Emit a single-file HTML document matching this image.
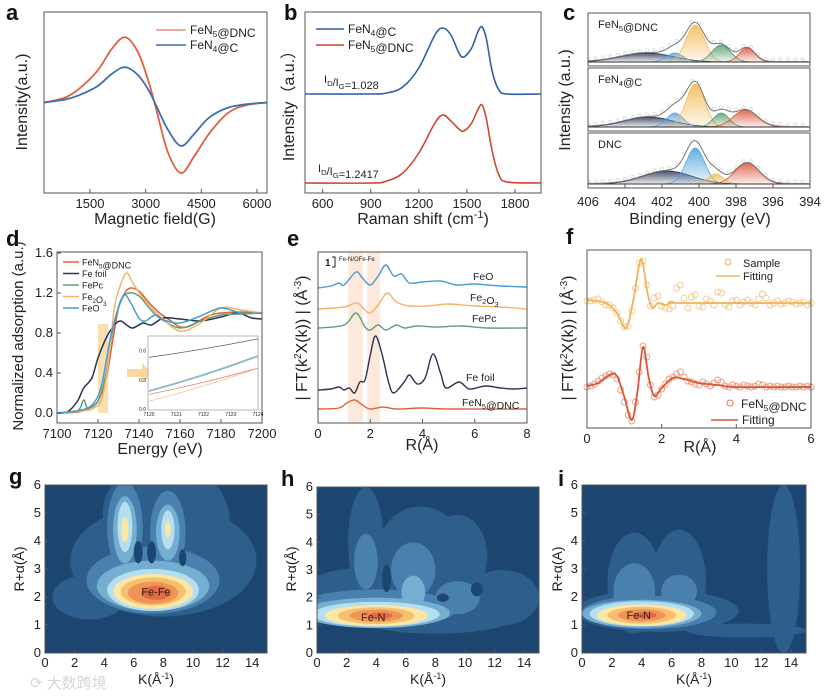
<!DOCTYPE html>
<html><head><meta charset="utf-8"><style>
html,body{margin:0;padding:0;background:#fff;}
svg{display:block;font-family:"Liberation Sans","Noto Sans CJK SC",sans-serif;}
</style></head><body>
<svg id="fig" width="830" height="696" viewBox="0 0 830 696" xmlns="http://www.w3.org/2000/svg">
<defs>
<clipPath id="clipG"><rect x="45" y="485" width="222" height="168"/></clipPath>
<clipPath id="clipH"><rect x="317" y="487" width="222" height="166"/></clipPath>
<clipPath id="clipI"><rect x="582" y="485" width="224" height="168"/></clipPath>
<clipPath id="clipC0"><rect x="588" y="13" width="222" height="53"/></clipPath>
<clipPath id="clipC1"><rect x="588" y="68" width="222" height="63"/></clipPath>
<clipPath id="clipC2"><rect x="588" y="133" width="222" height="55"/></clipPath>
</defs>
<g font-weight="bold" font-size="22" fill="#111">
<text x="6" y="20">a</text>
<text x="284" y="20">b</text>
<text x="563" y="20">c</text>
<text x="6" y="246">d</text>
<text x="287" y="246">e</text>
<text x="566" y="244">f</text>
<text x="9" y="484">g</text>
<text x="281" y="486">h</text>
<text x="558" y="486">i</text>
</g>
<g font-size="16" fill="#222" text-anchor="middle">
<text x="155" y="224">Magnetic field(G)</text>
<text transform="translate(27,102) rotate(-90)">Intensity(a.u.)</text>
<text x="423" y="224">Raman shift (cm<tspan dy="-6" font-size="11">-1</tspan><tspan dy="6">)</tspan></text>
<text transform="translate(294,102) rotate(-90)">Intensity（a.u.）</text>
<text x="700" y="224">Binding energy (eV)</text>
<text transform="translate(570,100) rotate(-90)">Intensity (a.u.)</text>
<text x="160" y="454">Energy (eV)</text>
<text transform="translate(23,336) rotate(-90)" font-size="15">Normalized adsorption (a.u.)</text>
<text x="422" y="450">R(Å)</text>
<text transform="translate(307,338) rotate(-90)">| FT(k<tspan dy="-6" font-size="10">2</tspan><tspan dy="6">X(k)) | (Å</tspan><tspan dy="-6" font-size="10">-3</tspan><tspan dy="6">)</tspan></text>
<text x="700" y="452">R(Å)</text>
<text transform="translate(573,338) rotate(-90)">| FT(k<tspan dy="-6" font-size="10">2</tspan><tspan dy="6">X(k)) | (Å</tspan><tspan dy="-6" font-size="10">-3</tspan><tspan dy="6">)</tspan></text>
<g font-size="14">
<text x="156" y="684">K(Å<tspan dy="-5" font-size="9">-1</tspan><tspan dy="5">)</tspan></text>
<text transform="translate(24,569) rotate(-90)">R+α(Å)</text>
<text x="428" y="684">K(Å<tspan dy="-5" font-size="9">-1</tspan><tspan dy="5">)</tspan></text>
<text transform="translate(296,569) rotate(-90)">R+α(Å)</text>
<text x="694" y="684">K(Å<tspan dy="-5" font-size="9">-1</tspan><tspan dy="5">)</tspan></text>
<text transform="translate(562,569) rotate(-90)">R+α(A)</text>
</g>
</g>
<text x="30" y="688" font-size="15" fill="#d6d6d6">⟳ 大数跨境</text>
</svg>
<script>
const epr_x=[260,800,1200,1700,2100,2450,2800,3100,3300,3600,3950,4300,4700,5200,5700,6270];
const epr_fen5=[0,0.05,0.15,0.35,0.6,0.72,0.55,0.2,-0.1,-0.55,-0.78,-0.6,-0.35,-0.12,-0.03,0];
const epr_fen4=[0,0.03,0.08,0.18,0.32,0.39,0.3,0.12,-0.05,-0.3,-0.48,-0.35,-0.17,-0.06,-0.02,0];
const epr_ticks=[1500,3000,4500,6000];
const raman_x=[490,900,1000,1100,1200,1300,1350,1400,1450,1480,1530,1570,1595,1620,1660,1700,1750,1962];
const raman_fen4=[99,99,100,106,125,158,165,158,140,136,145,162,166,155,120,103,99,99];
const raman_fen5=[10,10,12,20,40,70,78,72,64,62,70,84,88,75,40,18,11,10];
const raman_ticks=[600,900,1200,1500,1800];
const xps_ticks=[406,404,402,400,398,396,394];
const xps_names=["FeN5@DNC","FeN4@C","DNC"];
const xps_centers=[[402.8,401.3,400.2,398.8,397.4],[402.7,401.3,400.2,398.8,397.5],[401.7,400.2,399.1,397.4]];
const xps_heights=[[9,9,37,17,14],[10,14,43,14,17],[13,36,10,21]];
const xps_widths=[[1.4,0.45,0.5,0.5,0.42],[1.3,0.45,0.5,0.42,0.65],[1.3,0.5,0.4,0.65]];
const xps_colors=[["#2e3656","#5aa6dc","#f2b84e","#4f9a6c","#d9543c"],["#2e3656","#5aa6dc","#f2b84e","#4f9a6c","#d9543c"],["#2e3656","#4ca0dc","#f2b84e","#d9543c"]];
const xanes_x={
 fen5:[7100,7110,7115,7120,7124,7127,7130,7133,7136,7140,7145,7150,7155,7160,7165,7170,7175,7180,7190,7200],
 foil:[7100,7105,7110,7113,7117,7120,7124,7128,7131,7134,7137,7142,7146,7152,7160,7170,7180,7188,7195,7200],
 fepc:[7100,7110,7113,7115,7120,7124,7127,7131,7135,7140,7145,7150,7160,7170,7180,7190,7200],
 fe2o3:[7100,7112,7118,7122,7125,7128,7131,7134,7137,7142,7150,7160,7170,7180,7190,7200],
 feo:[7100,7112,7118,7122,7126,7130,7133,7136,7140,7143,7148,7152,7160,7170,7180,7190,7200]};
const xanes_y={
 fen5:[0,0.01,0.04,0.12,0.35,0.7,1.05,1.2,1.25,1.22,1.1,1.0,0.93,0.86,0.87,0.93,0.98,1.0,1.01,1.0],
 foil:[0,0.01,0.12,0.25,0.35,0.55,0.75,0.88,0.92,0.88,0.85,0.9,0.88,0.95,0.94,0.92,0.96,1.0,0.95,0.94],
 fepc:[0,0.02,0.13,0.05,0.12,0.4,0.8,1.12,1.2,1.17,1.05,0.95,0.85,0.92,0.98,0.99,1.0],
 fe2o3:[0,0.02,0.05,0.15,0.5,1.05,1.28,1.4,1.3,1.15,0.97,0.82,0.9,1.05,1.03,1.0],
 feo:[0,0.03,0.1,0.3,0.75,1.05,1.18,1.1,0.95,0.92,0.98,0.93,0.9,0.97,1.05,1.0,1.0]};
const xanes_names=["FeN5@DNC","Fe foil","FePc","Fe2O3","FeO"];
const xanes_keys=["fen5","foil","fepc","fe2o3","feo"];
const xanes_colors=["#e0603a","#2b3350","#5aa07a","#f2b56b","#4a9bd1"];
const xanes_yticks=[0,0.4,0.8,1.2,1.6];
const xanes_xticks=[7100,7120,7140,7160,7180,7200];
const inset_start=[0.15,0.53,0.19,0.08,0.18];
const inset_end=[0.42,0.72,0.55,0.42,0.54];
const ft_names=["FeO","Fe2O3","FePc","Fe foil","FeN5@DNC"];
const ft_offsets=[13.5,11.4,9.5,3.3,1.4];
const ft_colors=["#4a9bd1","#f2b56b","#5aa07a","#2b3350","#e0603a"];
const ft_x=[
 [0,0.5,0.8,1.0,1.45,1.7,2.0,2.3,2.6,2.9,3.2,3.5,4,4.7,5.3,6,7,8],
 [0,1.0,1.5,1.95,2.3,2.65,3.0,3.5,4.2,5,6,7,8],
 [0,1,1.45,1.8,2.0,2.3,2.6,3,3.3,3.8,4.5,5.5,6.5,8],
 [0,0.5,0.8,1.0,1.2,1.4,1.6,1.8,2.0,2.2,2.45,2.7,2.9,3.3,3.5,3.8,4.1,4.4,4.7,4.9,5.4,5.8,6.4,7,7.5,8],
 [0,0.8,1.1,1.4,1.7,2.0,2.5,3,4,5,8]];
const ft_y=[
 [0,0.2,0.5,0.3,1.6,1.0,0.3,1.2,2.3,1.2,1.4,0.5,0.6,0.7,0.3,0.4,0.2,0.1],
 [0,0.2,0.6,-0.4,0.4,1.6,0.7,0.3,0.3,0.5,0.3,0.2,0],
 [0,0.3,1.5,0.1,-0.2,0.3,-0.2,0.3,0,0.2,0.1,0.2,0,0],
 [0,0.1,0.3,0,0.2,-0.3,0.8,1.0,3.5,5.4,3.6,0.8,-0.3,0.8,1.5,0.6,1.2,3.6,1.6,0.2,0.8,0.1,0.4,0.2,0.1,0.2],
 [0,0.1,0.6,0.9,0.4,0,0.2,0,0.1,0,0]];
const ft_ticks=[0,2,4,6,8];
const fit_top_x=[0,0.5,0.8,1.05,1.25,1.45,1.62,1.75,1.9,2.1,2.3,2.5,6];
const fit_top_y=[0.3,0,-1.0,-2.5,0.5,4.4,1.0,-0.5,0,-0.2,0.1,0,0];
const fit_bot_x=[0,0.3,0.6,0.8,1.0,1.2,1.35,1.5,1.65,1.8,2.0,2.3,2.6,3.0,3.5,4,6];
const fit_bot_y=[0.1,0.4,1.2,1.1,-1.0,-3.3,-0.5,4.0,1.0,-0.9,-0.1,0.9,0.8,0.4,0.2,0,0];
const sample_top=[0.2,0.2,0.3,0.4,0.1,-0.2,-0.2,-0.5,-1.0,-1.8,-2.4,-2.3,-0.8,1.5,4.0,4.2,1.8,-0.3,0.5,0.7,-0.3,-0.5,-0.6,-0.3,1.5,1.8,0.5,-0.5,0.6,0.8,-0.3,-0.4,0.4,0.2,-0.2,1.1,1.0,-0.2,-0.4,0.2,0.3,-0.2,0.1,0.3,0,-0.2,0.4,0.9,0.5,-0.2,0,0.2,-0.1,0,0.2,0.1,-0.1,0,0.1,-0.2,0];
const sample_bot=[0,0.1,0.3,0.6,0.9,1.1,1.3,1.2,0.8,-0.3,-1.5,-2.8,-3.4,-1.5,1.5,4.1,3.0,0.2,-1.0,-0.8,-0.2,0.3,0.8,1.0,1.3,1.5,1.0,0.6,0.5,0.3,0.2,0.5,0.3,0.1,0.4,0.7,0.5,0.1,0,0.2,0.1,0,0.2,0.1,0,0.1,0.3,0.2,0,0.1,0,0.1,0,0,0.1,0,0,0.1,0,0.1,0];
const f_ticks=[0,2,4,6];
const map_colors=["#1c4670","#2d5e8c","#4a80ad","#74aed0","#b5def0","#fce6a4","#f6bf6f","#ee9555","#e26a48"];
const k_ticks=[0,2,4,6,8,10,12,14];
const r_ticks=[0,1,2,3,4,5,6];
const blobs_g=[[8,3.3,6.3,2.0,1],[6.5,5,2.6,1.5,1],[10,4.6,2.5,1.8,1],[3,2.0,2.5,0.8,1],[7.3,2.6,4.5,1.2,2],[5.4,4.5,1.2,1.6,2],[8.3,4.3,1.2,1.5,2],[7.3,2.4,3.8,0.9,3],[5.4,4.4,0.8,1.2,3],[8.3,4.3,0.8,1.0,3],[7.3,2.25,3.1,0.75,4],[5.4,4.5,0.5,0.9,4],[8.3,4.4,0.45,0.7,4],[7.3,2.2,2.7,0.62,5],[5.4,4.4,0.25,0.45,5],[8.3,4.4,0.2,0.3,5],[7.3,2.2,2.2,0.5,6],[7.3,2.15,1.7,0.4,7],[7.5,2.15,1.0,0.25,8],[6.3,3.6,0.3,0.4,0],[7.2,3.6,0.3,0.4,0],[9.3,3.4,0.25,0.3,0]];
const blobs_h=[[3.5,2.0,5,1.1,1],[3.3,4.0,1.2,2.0,1],[7,3.5,3,1.8,1],[9.5,3.5,2,1.5,1],[12.5,2.0,2.5,1.0,1],[8,1.2,5,0.5,1],[4,1.6,5.5,0.7,2],[3.3,3.3,0.8,1.0,2],[6.5,3,1.5,1.0,2],[9.5,2,1.5,0.6,2],[4,1.45,5,0.55,3],[6.5,2.2,0.8,0.6,3],[4,1.4,4.3,0.45,4],[4,1.35,3.5,0.38,5],[4,1.35,2.6,0.3,6],[4,1.35,1.8,0.22,7],[4.3,1.35,0.8,0.12,8],[4.7,2.7,0.3,0.5,0],[8.5,2,0.4,0.15,0],[10.8,2.3,0.4,0.25,0]];
const blobs_i=[[3.5,2.5,1.8,1.8,1],[6.5,2.6,1.8,1.8,1],[5,1.5,5.5,0.75,1],[13.5,3,1.1,3,1],[11,0.8,4,0.25,1],[3.5,2.2,1.4,1,2],[6.5,2.2,1.2,0.6,2],[4.5,1.45,4.5,0.6,2],[4,1.4,4,0.5,3],[4,1.4,3.5,0.45,4],[4,1.35,3,0.38,5],[4,1.35,2.3,0.3,6],[4,1.35,1.6,0.22,7],[4.2,1.35,0.8,0.12,8]];

const NS="http://www.w3.org/2000/svg";
const svg=document.getElementById('fig');
function mk(tag,attrs,name,parent){
 const el=document.createElementNS(NS,tag);
 for(const k in attrs) el.setAttribute(k,attrs[k]);
 
 
 (parent||svg).appendChild(el);
 return el;
}
function lin(d0,d1,r0,r1){return v=>r0+(v-d0)*(r1-r0)/(d1-d0);}
function smooth(pts){
 let d="M"+pts[0][0].toFixed(1)+","+pts[0][1].toFixed(1);
 for(let i=0;i<pts.length-1;i++){
  const p0=pts[Math.max(0,i-1)],p1=pts[i],p2=pts[i+1],p3=pts[Math.min(pts.length-1,i+2)];
  const c1=[p1[0]+(p2[0]-p0[0])/6,p1[1]+(p2[1]-p0[1])/6];
  const c2=[p2[0]-(p3[0]-p1[0])/6,p2[1]-(p3[1]-p1[1])/6];
  d+="C"+c1[0].toFixed(1)+","+c1[1].toFixed(1)+" "+c2[0].toFixed(1)+","+c2[1].toFixed(1)+" "+p2[0].toFixed(1)+","+p2[1].toFixed(1);
 }
 return d;
}
function series(xs,ys,sx,sy,color,name,w,parent){
 const pts=xs.map((x,i)=>[sx(x),sy(ys[i])]);
 return mk('path',{d:smooth(pts),fill:'none',stroke:color,'stroke-width':w||1.5},name,parent);
}
function frame(x,y,w,h,name){mk('rect',{x:x,y:y,width:w,height:h,fill:'none',stroke:'#555','stroke-width':1},name);}
function xticks(ticks,sx,yb,ylab,name,fs,fmt){
 ticks.forEach(t=>{
  mk('line',{x1:sx(t),x2:sx(t),y1:yb,y2:yb-4,stroke:'#555'},name+'-tick');
  const tx=mk('text',{x:sx(t),y:ylab,'font-size':fs||13,'text-anchor':'middle',fill:'#222'},name+'-label');
  tx.textContent=fmt?fmt(t):t;
 });
}
function yticks(ticks,sy,xl,name,fs,fmt){
 ticks.forEach(t=>{
  mk('line',{x1:xl,x2:xl+4,y1:sy(t),y2:sy(t),stroke:'#555'},name+'-tick');
  const tx=mk('text',{x:xl-4,y:sy(t)+4,'font-size':fs||13,'text-anchor':'end',fill:'#222'},name+'-label');
  tx.textContent=fmt?fmt(t):t;
 });
}
function txt(x,y,s,size,name,attrs){
 const t=mk('text',Object.assign({x:x,y:y,'font-size':size,fill:'#222'},attrs||{}),name);
 t.innerHTML=s;return t;
}
const sub=s=>'<tspan dy="3" font-size="70%">'+s+'</tspan><tspan dy="-3">';
function chem(name){
 return name.replace(/N(\d)@/,'N'+sub('$1')+'</tspan>@').replace(/(Fe)(2)(O)(3)/,'Fe'+sub('2')+'</tspan>O'+sub('3')+'</tspan>');
}

// A
(function(){
 const sx=lin(260,6270,44,267), sy=lin(-1,1,193,12);
 series(epr_x,epr_fen5,sx,sy,'#e0603a','a-fen5-line',1.8);
 series(epr_x,epr_fen4,sx,sy,'#3a6fb0','a-fen4-line',1.8);
 frame(44,12,223,181,'a-plot-frame');
 xticks(epr_ticks,sx,193,208,'a-x');
 mk('line',{x1:156,x2:186,y1:30,y2:30,stroke:'#e8907a','stroke-width':1.5},'a-legend-fen5-swatch');
 txt(190,34,'FeN'+sub('5')+'</tspan>@DNC',12,'a-legend-fen5');
 mk('line',{x1:156,x2:186,y1:45,y2:45,stroke:'#3a6fb0','stroke-width':1.5},'a-legend-fen4-swatch');
 txt(190,49,'FeN'+sub('4')+'</tspan>@C',12,'a-legend-fen4');
})();
// B
(function(){
 const sx=lin(490,1962,305,541), sy=lin(0,181,193,12);
 series(raman_x,raman_fen4,sx,sy,'#2f5fa5','b-fen4-line',1.6);
 series(raman_x,raman_fen5,sx,sy,'#cf4530','b-fen5-line',1.6);
 frame(305,12,236,181,'b-plot-frame');
 xticks(raman_ticks,sx,193,208,'b-x');
 mk('line',{x1:316,x2:344,y1:29,y2:29,stroke:'#2f5fa5','stroke-width':1.5},'b-legend-fen4-swatch');
 txt(348,33,'FeN'+sub('4')+'</tspan>@C',12,'b-legend-fen4');
 mk('line',{x1:316,x2:344,y1:45,y2:45,stroke:'#cf4530','stroke-width':1.5},'b-legend-fen5-swatch');
 txt(348,49,'FeN'+sub('5')+'</tspan>@DNC',12,'b-legend-fen5');
 txt(324,83,'I'+sub('D')+'</tspan>/I'+sub('G')+'</tspan>=1.028',11,'b-ratio-fen4');
 txt(318,172,'I'+sub('D')+'</tspan>/I'+sub('G')+'</tspan>=1.2417',11,'b-ratio-fen5');
})();
// C
(function(){
 const sx=lin(406,394,588,810);
 const subs=[[13,66],[68,131],[133,188]];
 const defs=svg.querySelector('defs');
 subs.forEach((s,si)=>{
  const base=s[1]-4;
  const sy=lin(0,50,base,base-50);
  const g=mk('g',{'clip-path':'url(#clipC'+si+')'},'c-subplot-group');
  const env=[];
  for(let e=406;e>=394;e-=0.1){
   let v=0;
   xps_centers[si].forEach((c,j)=>{v+=xps_heights[si][j]*Math.exp(-Math.pow((e-c)/xps_widths[si][j],2)/2);});
   env.push([sx(e),sy(v+0.5)]);
  }
  xps_centers[si].forEach((c,j)=>{
   const gid='g'+si+'_'+j;
   const lg=mk('linearGradient',{id:gid,x1:0,y1:0,x2:0,y2:1},'c-gradient',defs);
   mk('stop',{offset:'0','stop-color':xps_colors[si][j],'stop-opacity':0.85},'c-stop',lg);
   mk('stop',{offset:'1','stop-color':xps_colors[si][j],'stop-opacity':0.1},'c-stop',lg);
   const pts=[];
   for(let e=c+4*xps_widths[si][j];e>=c-4*xps_widths[si][j];e-=0.05){
    pts.push([sx(e),sy(xps_heights[si][j]*Math.exp(-Math.pow((e-c)/xps_widths[si][j],2)/2))]);
   }
   let d='M'+pts.map(p=>p[0].toFixed(1)+','+p[1].toFixed(1)).join('L')+'Z';
   mk('path',{d:d,fill:'url(#'+gid+')',stroke:xps_colors[si][j],'stroke-width':0.8},'c-fit-peak',g);
  });
  mk('line',{x1:588,x2:810,y1:base,y2:base,stroke:'#333','stroke-width':1},'c-baseline',g);
  env.filter((p,i)=>i%4==0).forEach(p=>mk('circle',{cx:p[0],cy:p[1]-2,r:1.6,fill:'none',stroke:'#ccc','stroke-width':0.6},'c-raw-point',g));
  mk('path',{d:'M'+env.map(p=>p[0].toFixed(1)+','+p[1].toFixed(1)).join('L'),fill:'none',stroke:'#777','stroke-width':1},'c-envelope',g);
  frame(588,s[0],222,s[1]-s[0],'c-subplot-frame');
  txt(598,s[0]+15,chem(xps_names[si]),11,'c-sample-label');
 });
 xticks(xps_ticks,sx,188,206,'c-x');
})();
// D
(function(){
 const sx=lin(7100,7200,57,262), sy=lin(0,1.6,413,253);
 mk('rect',{x:sx(7120),y:sy(0.89),width:sx(7125)-sx(7120),height:sy(0)-sy(0.89),fill:'#f9d9a2',opacity:0.85},'d-highlight-band');
 xanes_keys.forEach((k,i)=>series(xanes_x[k],xanes_y[k],sx,sy,xanes_colors[i],'d-line-'+k,1.5));
 mk('path',{d:'M127,369 L142,369 L142,363 L152,373 L142,383 L142,377 L127,377Z',fill:'#f9d9a2'},'d-zoom-arrow');
 frame(57,252,205,171,'d-plot-frame');
 xticks(xanes_xticks,sx,423,438,'d-x');
 yticks(xanes_yticks,sy,57,'d-y',13,t=>t.toFixed(1));
 xanes_names.forEach((n,i)=>{
  const y=262+i*11.5;
  mk('line',{x1:63,x2:79,y1:y,y2:y,stroke:xanes_colors[i],'stroke-width':1.5},'d-legend-swatch');
  txt(82,y+3.5,chem(n),9,'d-legend-entry');
 });
 const ix=lin(7120,7124,149,258), iy=lin(0,0.75,409,336);
 mk('rect',{x:148,y:336,width:110,height:74,fill:'#fff',stroke:'#888','stroke-width':0.6},'d-inset-frame');
 xanes_keys.forEach((k,i)=>{
  const a=inset_start[i],b=inset_end[i];
  mk('path',{d:'M'+ix(7120)+','+iy(a)+' Q'+ix(7122)+','+iy(a+(b-a)*0.42)+' '+ix(7124)+','+iy(b),fill:'none',stroke:xanes_colors[i],'stroke-width':0.8,opacity:0.8},'d-inset-line');
 });
 [7120,7121,7122,7123,7124].forEach(t=>{txt(ix(t),416,String(t),5,'d-inset-xlabel',{'text-anchor':'middle'});});
 [0,0.3,0.6].forEach(t=>{txt(146,iy(t)+2,t.toFixed(1),5,'d-inset-ylabel',{'text-anchor':'end'});});
})();
// E
(function(){
 const sx=lin(0,8,318,527), sy=lin(0,17.1,423,252);
 mk('rect',{x:sx(1.15),y:252,width:sx(1.72)-sx(1.15),height:171,fill:'#fbe3d3',opacity:0.8},'e-band-fe-n');
 mk('rect',{x:sx(1.88),y:252,width:sx(2.38)-sx(1.88),height:171,fill:'#fbe3d3',opacity:0.8},'e-band-fe-fe');
 ft_names.forEach((n,i)=>{
  const ys=ft_y[i].map(v=>v+ft_offsets[i]);
  series(ft_x[i],ys,sx,sy,ft_colors[i],'e-line-'+i,1.4);
 });
 const lbl=[[473,280],[470,301],[472,322],[466,381],[462,406]];
 ft_names.forEach((n,i)=>txt(lbl[i][0],lbl[i][1],chem(n),10.5,'e-curve-label'));
 frame(318,252,209,171,'e-plot-frame');
 xticks(ft_ticks,sx,423,438,'e-x');
 mk('path',{d:'M332,257 L335,257 L335,267 L332,267',fill:'none',stroke:'#222'},'e-scale-bar');
 txt(325,266,'1',10,'e-scale-label',{'font-weight':'bold'});
 txt(339,261,'Fe-N/OFe-Fe',6,'e-band-labels');
})();
// F
(function(){
 const sx=lin(0,6,587,811), sy=lin(0,17.8,428,250);
 sample_top.forEach((v,i)=>mk('circle',{cx:sx(i*0.1),cy:sy(v+12.5),r:3,fill:'none',stroke:'#f5c98e','stroke-width':0.9},'f-sample-top-point'));
 series(fit_top_x,fit_top_y.map(v=>v+12.5),sx,sy,'#f0b35a','f-fit-top-line',1.8);
 sample_bot.forEach((v,i)=>mk('circle',{cx:sx(i*0.1),cy:sy(v+4.1),r:3,fill:'none',stroke:'#ec9a82','stroke-width':0.9},'f-sample-bottom-point'));
 series(fit_bot_x,fit_bot_y.map(v=>v+4.1),sx,sy,'#d9563a','f-fit-bottom-line',1.8);
 frame(587,250,224,178,'f-plot-frame');
 xticks(f_ticks,sx,428,443,'f-x');
 mk('circle',{cx:728,cy:262,r:3,fill:'none',stroke:'#f0b35a'},'f-legend-sample-marker');
 txt(743,267,'Sample',11,'f-legend-sample');
 mk('line',{x1:716,x2:740,y1:276,y2:276,stroke:'#f0b35a','stroke-width':1.5},'f-legend-fit-swatch');
 txt(743,280,'Fitting',11,'f-legend-fitting');
 mk('circle',{cx:730,cy:403,r:3,fill:'none',stroke:'#e07a5f'},'f-legend-fen5-marker');
 txt(741,408,'FeN'+sub('5')+'</tspan>@DNC',12,'f-legend-fen5');
 mk('line',{x1:711,x2:738,y1:420,y2:420,stroke:'#d9563a','stroke-width':1.5},'f-legend-fit2-swatch');
 txt(742,424,'Fitting',12,'f-legend-fitting2');
})();
// G H I
function wtmap(x0,y0,w,h,blobs,clip,p,label,lk,lr){
 const sx=lin(0,15,x0,x0+w), sy=lin(0,6,y0+h,y0);
 const g=mk('g',{'clip-path':'url(#'+clip+')'},p+'-map-group');
 mk('rect',{x:x0,y:y0,width:w,height:h,fill:map_colors[0]},p+'-map-background',g);
 const order=blobs.filter(b=>b[4]>0).sort((a,b)=>a[4]-b[4]).concat(blobs.filter(b=>b[4]==0));
 order.forEach(b=>{
  mk('ellipse',{cx:sx(b[0]),cy:sy(b[1]),rx:b[2]*w/15,ry:b[3]*h/6,fill:map_colors[b[4]]},p+'-contour-cell',g);
 });
 frame(x0,y0,w,h,p+'-plot-frame');
 xticks(k_ticks,sx,y0+h,y0+h+14,p+'-x',13);
 yticks(r_ticks,sy,x0,p+'-y',13);
 txt(sx(lk),sy(lr)+4,label,11,p+'-peak-label',{'text-anchor':'middle',fill:'#3a2010'});
}
wtmap(45,485,222,168,blobs_g,'clipG','g','Fe-Fe',7.5,2.2);
wtmap(317,487,222,166,blobs_h,'clipH','h','Fe-N',3.8,1.3);
wtmap(582,485,224,168,blobs_i,'clipI','i','Fe-N',3.8,1.35);
</script>
</body></html>
